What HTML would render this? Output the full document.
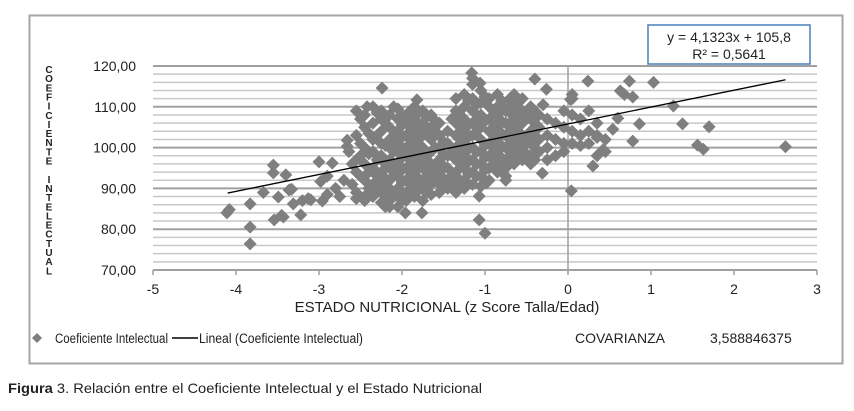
<!DOCTYPE html>
<html><head><meta charset="utf-8"><style>
body{margin:0;background:#fff;width:854px;height:406px;overflow:hidden;font-family:"Liberation Sans",sans-serif;}
svg text{font-family:"Liberation Sans",sans-serif;}
</style></head><body>
<svg id="chart" width="854" height="406" viewBox="0 0 854 406" xmlns="http://www.w3.org/2000/svg">
<rect x="29.5" y="15.5" width="813" height="348" fill="#fff" stroke="#a6a6a6" stroke-width="2"/>
<g id="grid"></g><g id="axes"></g><g id="pts"></g><g id="trend"></g>
<g>
<rect x="648" y="25" width="162" height="39" fill="#fff" stroke="#4a7ebb" stroke-width="1.5"/>
<text x="729" y="42" font-size="14" text-anchor="middle" fill="#222">y = 4,1323x + 105,8</text>
<text x="729" y="59" font-size="14" text-anchor="middle" fill="#222">R² = 0,5641</text>
</g>
<text id="ytitle" font-size="10" font-weight="bold" fill="#222" text-anchor="middle"></text>
<text x="447" y="312" font-size="15" text-anchor="middle" fill="#222">ESTADO NUTRICIONAL (z Score Talla/Edad)</text>
<g>
<path d="M37 333 L42 338 L37 343 L32 338Z" fill="#7f7f7f"/>
<text x="55" y="343" font-size="13.5" fill="#222" textLength="113" lengthAdjust="spacingAndGlyphs">Coeficiente Intelectual</text>
<line x1="172" y1="338" x2="198" y2="338" stroke="#000" stroke-width="1.5"/>
<text x="199" y="343" font-size="13.5" fill="#222" textLength="164" lengthAdjust="spacingAndGlyphs">Lineal (Coeficiente Intelectual)</text>
<text x="575" y="343" font-size="14" fill="#222">COVARIANZA</text>
<text x="710" y="343" font-size="14" fill="#222">3,588846375</text>
</g>
<text x="8" y="393" font-size="14" fill="#222" textLength="474" lengthAdjust="spacingAndGlyphs"><tspan font-weight="bold">Figura</tspan> 3. Relación entre el Coeficiente Intelectual y el Estado Nutricional</text>
</svg>
<script>
const xTicks=[-5,-4,-3,-2,-1,0,1,2,3];
const yTicks=[70,80,90,100,110,120];
const yTickLabels=["70,00","80,00","90,00","100,00","110,00","120,00"];
const slope=4.1323, intercept=105.8, trendRange=[-4.1,2.62];
const points=[
[-4.11,84],[-4.08,84.8],[-3.83,86.2],[-3.83,80.5],[-3.83,76.4],[-3.55,95.7],[-3.55,93.8],[-3.67,89],[-3.49,87.9],[-3.4,93.3],[-3.36,89.6],[-3.33,89.8],
[-3.54,82.3],[-3.43,83],[-3.45,83.4],[-3.22,83.5],[-3.31,86.2],[-3.2,87],[-3.1,87.2],[-3.13,87.5],[-3.0,96.5],[-2.84,96.2],[-2.96,86.9],[-2.98,91.7],[-2.9,93],
[-2.75,88],[-2.8,90],[-2.7,92],[-2.66,101.8],[-2.66,100.3],[-2.64,99],[-2.24,114.6],[-1.82,111.7],[-1.96,84],[-1.76,84],[-2.2,85.5],[-2.9,88.5],
[-1.16,118.3],[-1.06,115.8],[-0.4,116.8],[-0.26,114.3],[0.24,116.3],[0.74,116.3],[1.03,116],[0.63,113.9],[0.68,113],[0.78,112.4],[1.27,110.2],
[0.86,105.8],[1.38,105.8],[1.7,105.1],[0.78,101.6],[1.56,100.6],[1.63,99.6],[2.62,100.2],[0.3,95.5],[0.04,89.4],[0.42,99.4],[0.54,104.5],
[0.35,102.5],[0.6,107.2],[-1.07,88.1],[-1.07,82.3],[-1.0,79],[-0.31,93.7],[-0.98,91.4],[-0.75,92],[0.03,111.8],[0.05,113],
[-2.55,109],[-2.55,103],[-2.55,97],[-2.55,94],[-2.55,89],[-2.55,87.5],
[-2.45,108],[-2.45,105],[-2.45,100],[-2.45,96],[-2.45,92],[-2.45,88],[-2.45,87],
[-2.35,110],[-2.35,106],[-2.35,102],[-2.35,99],[-2.35,95],[-2.35,91],[-2.35,88],
[-2.25,109],[-2.25,107],[-2.25,104],[-2.25,101],[-2.25,98],[-2.25,94],[-2.25,91],[-2.25,89],[-2.25,86.5],
[-2.15,108],[-2.15,105],[-2.15,102],[-2.15,100],[-2.15,97],[-2.15,95],[-2.15,92],[-2.15,90],[-2.15,87],[-2.15,85.5],
[-2.05,109.5],[-2.05,107],[-2.05,104],[-2.05,101],[-2.05,99],[-2.05,96],[-2.05,93],[-2.05,90],[-2.05,88],[-2.05,85.5],
[-1.95,108],[-1.95,106],[-1.95,103],[-1.95,100],[-1.95,98],[-1.95,95],[-1.95,92],[-1.95,89],[-1.95,87],
[-1.85,110],[-1.85,107],[-1.85,104],[-1.85,102],[-1.85,99],[-1.85,96],[-1.85,94],[-1.85,91],[-1.85,88],
[-1.75,109],[-1.75,106],[-1.75,103],[-1.75,100],[-1.75,97],[-1.75,95],[-1.75,92],[-1.75,90],[-1.75,87],
[-1.65,108],[-1.65,105],[-1.65,102],[-1.65,99],[-1.65,96],[-1.65,93],[-1.65,91],[-1.65,88.5],
[-1.55,106],[-1.55,103],[-1.55,100],[-1.55,97],[-1.55,94],[-1.55,91],[-1.55,89],
[-2.5,107],[-2.5,101],[-2.5,98],[-2.5,93],[-2.3,108.5],[-2.3,103],[-2.3,97],[-2.3,93],[-2.3,89.5],
[-2.1,110],[-2.1,103],[-2.1,99],[-2.1,94],[-2.1,88],[-1.9,109],[-1.9,105],[-1.9,101],[-1.9,97],[-1.9,93],[-1.9,90],
[-1.7,107.5],[-1.7,104],[-1.7,98],[-1.7,94],[-1.7,89],[-1.6,104],[-1.6,100],[-1.6,95],[-1.6,92],
[-2.4,103.5],[-2.4,98.5],[-2.4,94],[-2.4,90],[-2.2,106],[-2.2,100.5],[-2.2,96],[-2.2,92.5],[-2.2,88],
[-2.0,108],[-2.0,105.5],[-2.0,102.5],[-2.0,97.5],[-2.0,94.5],[-2.0,91.5],[-2.0,87],[-1.8,108.5],[-1.8,105],[-1.8,101],[-1.8,98],[-1.8,95],[-1.8,92.5],[-1.8,89.5],
[-1.5,101.5],[-1.5,98.5],[-1.5,95.5],[-1.5,92.5],[-2.6,91],[-2.6,96],[-2.42,110],[-1.62,107],
[-1.45,104],[-1.45,101],[-1.45,98],[-1.45,95],[-1.45,92],[-1.45,90],
[-1.35,112],[-1.35,109],[-1.35,106],[-1.35,103],[-1.35,100],[-1.35,97],[-1.35,94],[-1.35,91],[-1.35,89],
[-1.25,113],[-1.25,110],[-1.25,107],[-1.25,104],[-1.25,101],[-1.25,98],[-1.25,95],[-1.25,92],[-1.25,90],
[-1.15,117],[-1.15,115.5],[-1.15,112],[-1.15,109],[-1.15,106],[-1.15,103],[-1.15,100],[-1.15,97],[-1.15,94],[-1.15,91],
[-1.05,114],[-1.05,111],[-1.05,108],[-1.05,105],[-1.05,102],[-1.05,99],[-1.05,96],[-1.05,93],[-1.05,90.5],
[-0.95,112],[-0.95,110],[-0.95,107],[-0.95,104],[-0.95,101],[-0.95,98],[-0.95,95],[-0.95,92],
[-0.85,113],[-0.85,110],[-0.85,108],[-0.85,105],[-0.85,102],[-0.85,99],[-0.85,96],[-0.85,94],
[-0.75,111],[-0.75,109],[-0.75,106],[-0.75,103],[-0.75,100],[-0.75,97],[-0.75,95],[-0.75,93],
[-0.65,113],[-0.65,110],[-0.65,107],[-0.65,104],[-0.65,101],[-0.65,98],[-0.65,96],
[-0.55,112],[-0.55,109],[-0.55,106],[-0.55,103],[-0.55,100],[-0.55,97],
[-0.45,110],[-0.45,107],[-0.45,104],[-0.45,101],[-0.45,98],[-0.45,96],
[-0.35,108],[-0.35,105],[-0.35,102],[-0.35,99],
[-1.3,108],[-1.3,102],[-1.3,96],[-1.3,92],[-1.1,110.5],[-1.1,104],[-1.1,99],[-1.1,93],[-0.9,109],[-0.9,103],[-0.9,97],
[-0.7,112],[-0.7,105],[-0.7,99],[-0.5,108],[-0.5,102],[-0.5,98.5],[-1.4,107],[-1.4,99],[-1.4,93],
[-1.2,111.5],[-1.2,105.5],[-1.2,102.5],[-1.2,99.5],[-1.2,96.5],[-1.2,93.5],[-1.0,112.5],[-1.0,106.5],[-1.0,100.5],[-1.0,97.5],[-1.0,94.5],
[-0.8,111.5],[-0.8,106.5],[-0.8,103.5],[-0.8,100.5],[-0.8,97.5],[-0.6,111],[-0.6,108],[-0.6,105],[-0.6,102],[-0.6,99],[-0.4,109],[-0.4,106],[-0.4,103],[-0.4,100],[-0.4,97],
[-1.3,105],[-1.3,99],[-1.1,107],[-1.1,96],[-0.9,106],[-0.9,100],[-0.7,108.5],[-0.7,102],[-0.3,110.5],
[-0.25,107],[-0.25,103],[-0.25,100],[-0.25,97],[-0.15,106],[-0.15,102],[-0.15,98],[-0.05,109],[-0.05,105],[-0.05,101],[-0.05,99],
[0.05,112],[0.05,108],[0.05,104],[0.05,101],[0.15,107],[0.15,103],[0.15,100.5],[0.25,109],[0.25,104],[0.25,101],[0.35,106],[0.35,103],[0.35,98],[0.45,102],[0.45,99]
];
const NS="http://www.w3.org/2000/svg";
const X0=153,X1=817,Y0=270,Y1=66;
const sx=v=>X0+(v-xTicks[0])/(xTicks[xTicks.length-1]-xTicks[0])*(X1-X0);
const sy=v=>Y0-(v-yTicks[0])/(yTicks[yTicks.length-1]-yTicks[0])*(Y0-Y1);
function mk(tag,attrs,parent){const e=document.createElementNS(NS,tag);for(const k in attrs)e.setAttribute(k,attrs[k]);parent.appendChild(e);return e;}
const grid=document.getElementById('grid'),axes=document.getElementById('axes');
for(let v=yTicks[0];v<=yTicks[yTicks.length-1];v+=2){
  const major=(v-yTicks[0])%10===0;
  const l=mk('line',{x1:X0,x2:X1,y1:sy(v),y2:sy(v),stroke:major?'#a0a0a0':'#c8c8c8','stroke-width':major?2:1.5},grid);
  
  
}
yTicks.forEach((v,i)=>{
  const t=mk('text',{x:136,y:sy(v)+5,'font-size':14,'text-anchor':'end',fill:'#222'},axes);
  t.textContent=yTickLabels[i];
  
  
});
const va=mk('line',{x1:sx(0),x2:sx(0),y1:Y1,y2:Y0,stroke:'#a0a0a0','stroke-width':1.5},axes);


const xa=mk('line',{x1:X0,x2:X1,y1:Y0,y2:Y0,stroke:'#a0a0a0','stroke-width':2},axes);


xTicks.forEach(v=>{
  mk('line',{x1:sx(v),x2:sx(v),y1:Y0,y2:Y0+5,stroke:'#a0a0a0','stroke-width':1.5},axes);
  const t=mk('text',{x:sx(v),y:294,'font-size':14,'text-anchor':'middle',fill:'#222'},axes);
  t.textContent=String(v);
  
  
});
const pts=document.getElementById('pts');
points.forEach(p=>{
  const x=sx(p[0]),y=sy(p[1]),r=6.5;
  const d=mk('path',{d:`M${x} ${y-r}L${x+r} ${y}L${x} ${y+r}L${x-r} ${y}Z`,fill:'#7f7f7f'},pts);
  
  
});
const tl=mk('line',{x1:sx(trendRange[0]),y1:sy(slope*trendRange[0]+intercept),x2:sx(trendRange[1]),y2:sy(slope*trendRange[1]+intercept),stroke:'#000','stroke-width':1.3},document.getElementById('trend'));


const yt=document.getElementById('ytitle');
const letters="COEFICIENTE INTELECTUAL".split('');
letters.forEach((c,i)=>{const s=document.createElementNS(NS,'tspan');s.setAttribute('x',49);s.setAttribute('y',73+i*9.15);s.textContent=c===' '?'\u00a0':c;yt.appendChild(s);});
</script>
</body></html>
